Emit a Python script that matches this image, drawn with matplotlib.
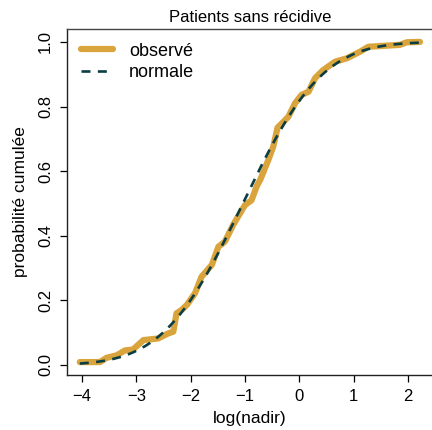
import numpy as np
from matplotlib import pyplot as plt
from math import erf, sqrt

# empirical cumulative curve (log nadir, cumulative probability)
obs_x = [-4.04, -3.67, -3.55, -3.36, -3.21, -3.06, -2.87, -2.60, -2.41, -2.32,
         -2.26, -2.17, -2.07, -1.92, -1.80, -1.61, -1.49, -1.37, -1.22, -1.09,
         -1.00, -0.88, -0.78, -0.72, -0.57, -0.48, -0.40, -0.29, -0.20, -0.08,
         0.04, 0.17, 0.29, 0.44, 0.66, 0.87, 1.12, 1.27, 1.85, 1.98, 2.22]
obs_y = [0.009, 0.009, 0.022, 0.030, 0.045, 0.048, 0.077, 0.082, 0.098, 0.103,
         0.160, 0.170, 0.186, 0.222, 0.273, 0.310, 0.366, 0.382, 0.433, 0.470,
         0.495, 0.510, 0.555, 0.573, 0.635, 0.676, 0.735, 0.753, 0.769, 0.810,
         0.836, 0.846, 0.888, 0.913, 0.939, 0.949, 0.970, 0.985, 0.991, 0.999, 1.0]

# fitted normal law
mu = -1.04
sigma = 1.147

x_ticks = [-4, -3, -2, -1, 0, 1, 2]
y_ticks = [0.0, 0.2, 0.4, 0.6, 0.8, 1.0]


def normal_cdf(x):
    return np.array([0.5 * (1 + erf((v - mu) / (sigma * sqrt(2)))) for v in x])


if __name__ == "__main__":
    plt.rcParams['font.family'] = ['Liberation Sans', 'DejaVu Sans']
    plt.rcParams['font.size'] = 12

    fig = plt.figure(figsize=(4.32, 4.30), dpi=100)
    ax = fig.add_axes([67/432, 55/430, 366/432, 346/430])

    xs = np.linspace(obs_x[0], obs_x[-1], 400)
    ax.plot(obs_x, obs_y, color='#D9A43C', lw=4.5, solid_capstyle='round',
            solid_joinstyle='round', label='observé')
    ax.plot(xs, normal_cdf(xs), color='#0B3D45', lw=1.9, dashes=(3.4, 2.8),
            label='normale')

    ax.set_xlim(-4.276, 2.46)
    ax.set_ylim(-0.031, 1.040)
    ax.set_xticks(x_ticks)
    ax.set_xticklabels([('−' if t < 0 else '') + str(abs(t)) for t in x_ticks])
    ax.set_yticks(y_ticks)
    ax.set_yticklabels(['%.1f' % t for t in y_ticks], rotation=90, va='center')
    ax.tick_params(direction='out', length=5, width=0.9, pad=5, labelsize=12)
    for s in ax.spines.values():
        s.set_linewidth(1.0)
        s.set_color('#222222')
    ax.spines['top'].set_color('#444444')

    ax.set_title('Patients sans récidive', fontsize=12, pad=5)
    ax.set_xlabel('log(nadir)', fontsize=12.5, labelpad=5)
    ax.set_ylabel('probabilité cumulée', fontsize=12.5, labelpad=7)

    ax.legend(loc='upper left', frameon=False, fontsize=13, handlelength=1.8,
              handletextpad=0.9, borderaxespad=0.35, labelspacing=0.25,
              bbox_to_anchor=(0.0, 1.0))

    fig.savefig('out.png', dpi=100)
